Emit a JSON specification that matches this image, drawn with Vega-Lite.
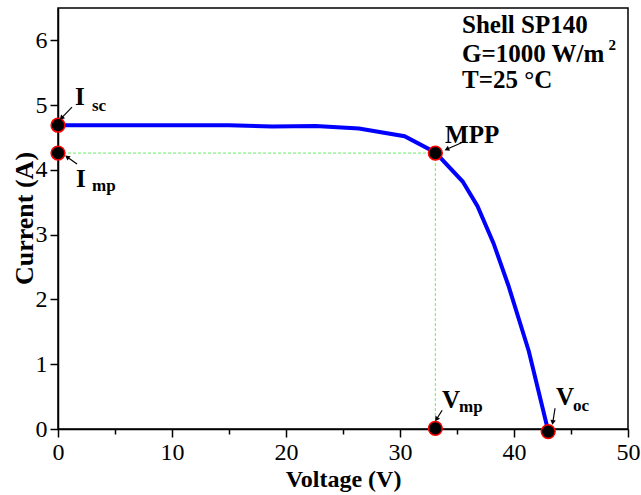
{
  "$schema": "https://vega.github.io/schema/vega-lite/v6.json",
  "width": 570,
  "height": 421,
  "padding": {"left": 58, "top": 8, "right": 13, "bottom": 66},
  "autosize": {"type": "none"},
  "background": "white",
  "config": {
    "view": {"stroke": "black", "strokeWidth": 1.5},
    "axis": {
      "domainColor": "black", "domainWidth": 1.5,
      "tickColor": "black", "tickWidth": 1.5,
      "labelFont": "Liberation Serif", "labelFontSize": 24, "labelColor": "black",
      "titleFont": "Liberation Serif", "titleFontSize": 24, "titleFontWeight": "bold", "titleColor": "black",
      "grid": false
    }
  },
  "datasets": {
    "curve": [
      {"v": 0, "i": 4.69}, {"v": 3.8, "i": 4.69}, {"v": 7.5, "i": 4.69}, {"v": 11.3, "i": 4.69},
      {"v": 15.0, "i": 4.69}, {"v": 18.8, "i": 4.67}, {"v": 22.6, "i": 4.68}, {"v": 26.4, "i": 4.64},
      {"v": 30.4, "i": 4.52}, {"v": 33.1, "i": 4.27}, {"v": 35.5, "i": 3.82}, {"v": 36.8, "i": 3.44},
      {"v": 38.2, "i": 2.87}, {"v": 39.5, "i": 2.22}, {"v": 41.3, "i": 1.2}, {"v": 43.0, "i": -0.03}
    ],
    "points": [
      {"name": "Isc", "v": 0, "i": 4.69},
      {"name": "Imp", "v": 0, "i": 4.26},
      {"name": "MPP", "v": 33.1, "i": 4.26},
      {"name": "Vmp", "v": 33.1, "i": 0.01},
      {"name": "Voc", "v": 43.0, "i": -0.04}
    ],
    "guides": [
      {"v": 0, "i": 4.26, "v2": 33.1, "i2": 4.26},
      {"v": 33.1, "i": 4.26, "v2": 33.1, "i2": 0}
    ],
    "arrows": [
      {"v": 1.23, "i": 4.97, "v2": 0.3, "i2": 4.8},
      {"v": 1.67, "i": 4.09, "v2": 0.8, "i2": 4.2},
      {"v": 35.4, "i": 4.42, "v2": 34.1, "i2": 4.32},
      {"v": 33.7, "i": 0.29, "v2": 33.2, "i2": 0.15},
      {"v": 43.6, "i": 0.32, "v2": 43.4, "i2": 0.1}
    ],
    "labels": [
      {"role": "main", "text": "I", "v": 1.49, "i": 5.0},
      {"role": "sub", "text": "sc", "v": 2.98, "i": 4.91},
      {"role": "main", "text": "I", "v": 1.58, "i": 3.74},
      {"role": "sub", "text": "mp", "v": 2.98, "i": 3.67},
      {"role": "main", "text": "MPP", "v": 33.95, "i": 4.42},
      {"role": "main", "text": "V", "v": 33.68, "i": 0.32},
      {"role": "sub", "text": "mp", "v": 35.18, "i": 0.26},
      {"role": "main", "text": "V", "v": 43.68, "i": 0.37},
      {"role": "sub", "text": "oc", "v": 45.18, "i": 0.28},
      {"role": "box", "text": "Shell SP140", "v": 35.44, "i": 6.11},
      {"role": "box", "text": "G=1000 W/m", "v": 35.44, "i": 5.67},
      {"role": "sup", "text": "2", "v": 48.3, "i": 5.85},
      {"role": "box", "text": "T=25 °C", "v": 35.44, "i": 5.26}
    ]
  },
  "encoding": {
    "x": {
      "field": "v", "type": "quantitative",
      "scale": {"domain": [0, 50], "nice": false, "zero": false},
      "axis": {
        "title": "Voltage (V)",
        "values": [0, 5, 10, 15, 20, 25, 30, 35, 40, 45, 50],
        "format": "d",
        "labelExpr": "datum.value % 10 === 0 ? datum.label : ''",
        "tickSize": {"condition": {"test": "datum.value % 10 === 0", "value": 8}, "value": 5},
        "labelPadding": 3,
        "titlePadding": 3,
        "labelFlush": false
      }
    },
    "y": {
      "field": "i", "type": "quantitative",
      "scale": {"domain": [0, 6.5], "nice": false, "zero": false},
      "axis": {
        "title": "Current (A)",
        "titleFontSize": 26,
        "values": [0, 0.5, 1, 1.5, 2, 2.5, 3, 3.5, 4, 4.5, 5, 5.5, 6],
        "format": "d",
        "labelExpr": "datum.value % 1 === 0 ? datum.label : ''",
        "tickSize": {"condition": {"test": "datum.value % 1 === 0", "value": 8}, "value": 5},
        "labelPadding": 3,
        "titleX": -26,
        "titleY": 210,
        "titleBaseline": "alphabetic",
        "labelFlush": false
      }
    }
  },
  "layer": [
    {
      "data": {"name": "guides"},
      "mark": {"type": "rule", "color": "#66ee66", "strokeWidth": 1, "strokeDash": [3, 2]},
      "encoding": {"x2": {"field": "v2"}, "y2": {"field": "i2"}}
    },
    {
      "data": {"name": "curve"},
      "mark": {"type": "line", "color": "#0000ff", "strokeWidth": 4}
    },
    {
      "data": {"name": "points"},
      "mark": {"type": "point", "shape": "circle", "filled": true, "fill": "black", "stroke": "#ff0000", "strokeWidth": 1.5, "size": 190, "opacity": 1}
    },
    {
      "data": {"name": "arrows"},
      "mark": {"type": "rule", "color": "black", "strokeWidth": 1.2},
      "encoding": {"x2": {"field": "v2"}, "y2": {"field": "i2"}}
    },
    {
      "data": {"name": "arrows"},
      "transform": [
        {"calculate": "atan2((datum.v2 - datum.v) * 11.4, (datum.i2 - datum.i) * 64.77) * 180 / PI", "as": "ang"}
      ],
      "mark": {"type": "point", "shape": "triangle-up", "filled": true, "color": "black", "size": 30, "opacity": 1},
      "encoding": {
        "x": {"field": "v2", "type": "quantitative"},
        "y": {"field": "i2", "type": "quantitative"},
        "angle": {"field": "ang", "type": "quantitative", "scale": null}
      }
    },
    {
      "data": {"name": "labels"},
      "transform": [{"filter": "datum.role === 'main'"}],
      "mark": {"type": "text", "font": "Liberation Serif", "fontWeight": "bold", "fontSize": 25, "align": "left", "baseline": "alphabetic", "color": "black"},
      "encoding": {"text": {"field": "text"}}
    },
    {
      "data": {"name": "labels"},
      "transform": [{"filter": "datum.role === 'sub'"}],
      "mark": {"type": "text", "font": "Liberation Serif", "fontWeight": "bold", "fontSize": 17, "align": "left", "baseline": "alphabetic", "color": "black"},
      "encoding": {"text": {"field": "text"}}
    },
    {
      "data": {"name": "labels"},
      "transform": [{"filter": "datum.role === 'box'"}],
      "mark": {"type": "text", "font": "Liberation Serif", "fontWeight": "bold", "fontSize": 25, "align": "left", "baseline": "alphabetic", "color": "black"},
      "encoding": {"text": {"field": "text"}}
    },
    {
      "data": {"name": "labels"},
      "transform": [{"filter": "datum.role === 'sup'"}],
      "mark": {"type": "text", "font": "Liberation Serif", "fontWeight": "bold", "fontSize": 15, "align": "left", "baseline": "alphabetic", "color": "black"},
      "encoding": {"text": {"field": "text"}}
    }
  ]
}
